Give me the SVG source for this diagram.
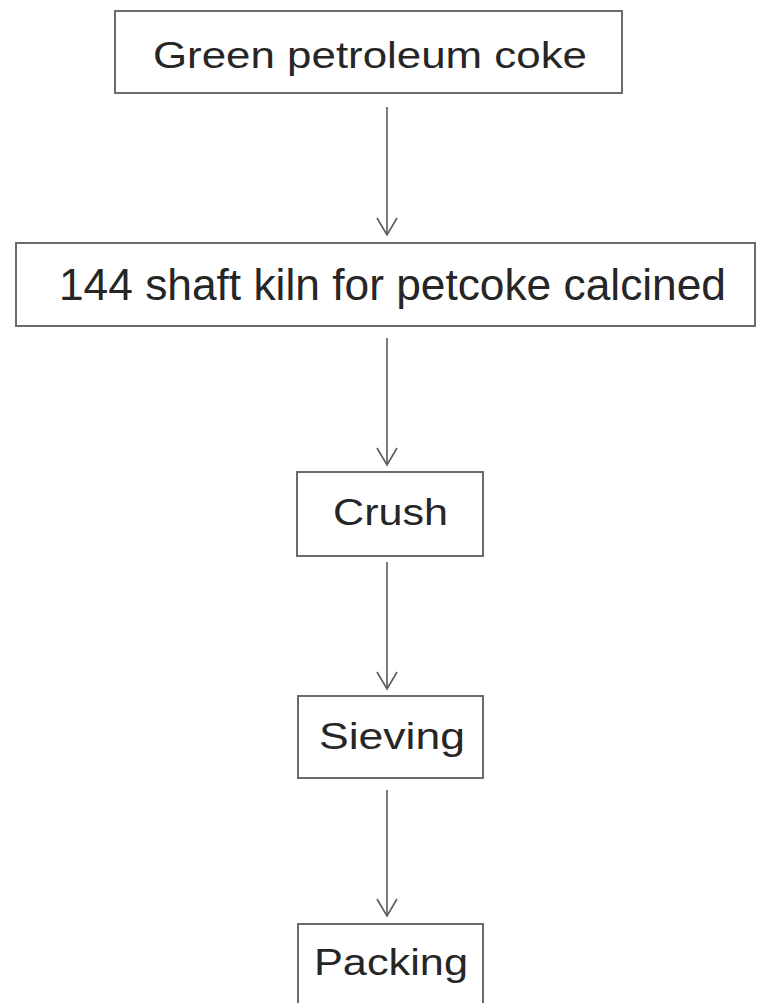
<svg xmlns="http://www.w3.org/2000/svg" width="757" height="1003" viewBox="0 0 757 1003">
  <style>
    .box { fill: #ffffff; stroke: #6a6a6a; stroke-width: 2; }
    .lbl { font-family: "Liberation Sans", Arial, sans-serif; font-size: 37px; fill: #262626; }
    .big { font-size: 45px; }
    .conn { stroke: #5a5a5a; stroke-width: 1.6; fill: none; }
  </style>
  <defs>
    <marker id="ah" markerUnits="userSpaceOnUse" markerWidth="24" markerHeight="24" viewBox="0 0 24 24" refX="20" refY="12" orient="auto">
      <path d="M3,2 L20,12 L3,22" fill="none" stroke="#5a5a5a" stroke-width="1.6"/>
    </marker>
  </defs>
  <rect width="757" height="1003" fill="#ffffff"/>
  <g id="connectors">
    <line class="conn" x1="387" y1="107" x2="387" y2="235" marker-end="url(#ah)"/>
    <line class="conn" x1="387" y1="338" x2="387" y2="465" marker-end="url(#ah)"/>
    <line class="conn" x1="387" y1="562" x2="387" y2="689" marker-end="url(#ah)"/>
    <line class="conn" x1="387" y1="790" x2="387" y2="916" marker-end="url(#ah)"/>
  </g>
  <g id="node-green">
    <rect class="box" x="115" y="11" width="507" height="82"/>
    <text class="lbl" x="153" y="68" textLength="434" lengthAdjust="spacingAndGlyphs">Green petroleum coke</text>
  </g>
  <g id="node-kiln">
    <rect class="box" x="16" y="243" width="739" height="83"/>
    <text class="lbl big" x="59" y="300" textLength="667" lengthAdjust="spacingAndGlyphs">144 shaft kiln for petcoke calcined</text>
  </g>
  <g id="node-crush">
    <rect class="box" x="297" y="472" width="186" height="84"/>
    <text class="lbl" x="333" y="525" textLength="115" lengthAdjust="spacingAndGlyphs">Crush</text>
  </g>
  <g id="node-sieving">
    <rect class="box" x="298" y="696" width="185" height="82"/>
    <text class="lbl" x="319" y="749" textLength="146" lengthAdjust="spacingAndGlyphs">Sieving</text>
  </g>
  <g id="node-packing">
    <rect class="box" x="298" y="924" width="185" height="84"/>
    <text class="lbl" x="314" y="975" textLength="154" lengthAdjust="spacingAndGlyphs">Packing</text>
  </g>
</svg>
